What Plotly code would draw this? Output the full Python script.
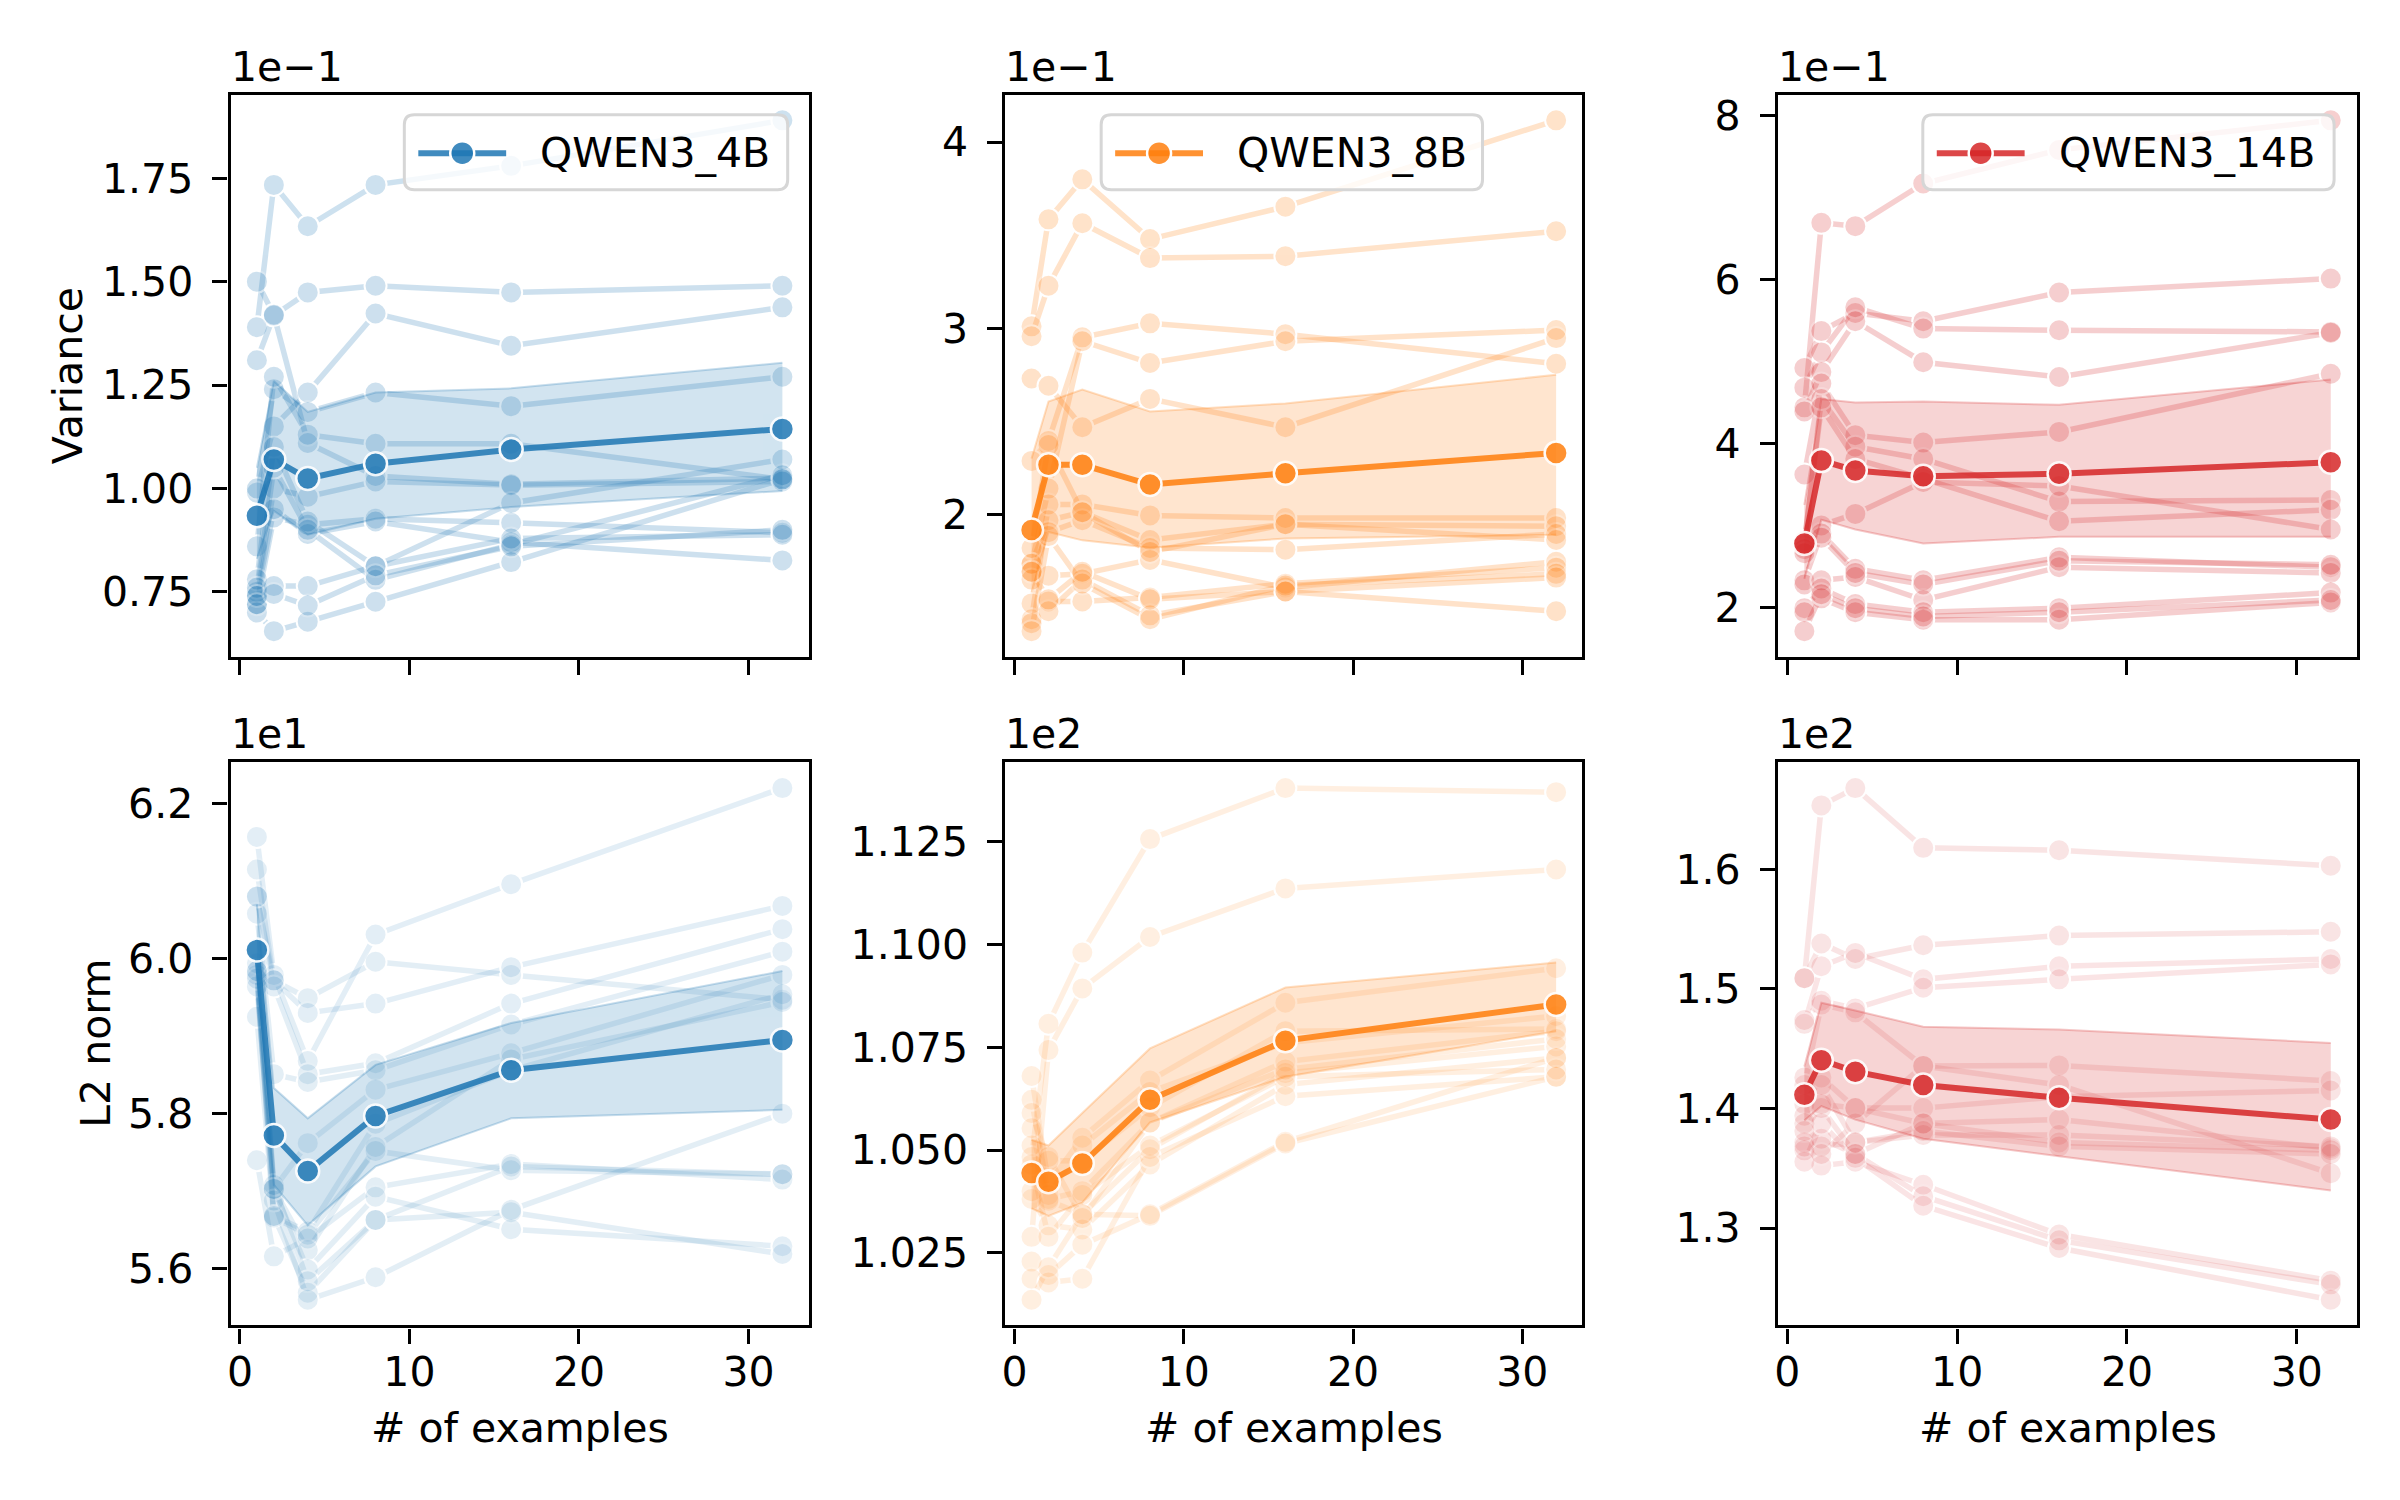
import plotly.graph_objects as go

examples = [1, 2, 4, 8, 16, 32]
models = ["QWEN3_4B", "QWEN3_8B", "QWEN3_14B"]
colors = ["#1f77b4", "#ff7f0e", "#d62728"]

# Variance, shown in units of 1e-1 (offset text on the axis)
var_4b_runs = [
    [1.39, 1.734, 1.634, 1.734, 1.78, 1.89],
    [1.31, 1.418, 1.474, 1.49, 1.474, 1.49],
    [1.50, 1.42, 1.11, 1.03, 1.01, 1.025],
    [0.99, 1.15, 1.232, 1.423, 1.345, 1.438],
    [1.00, 1.24, 1.185, 1.232, 1.199, 1.27],
    [0.86, 1.27, 1.13, 1.108, 1.108, 1.022],
    [0.75, 1.00, 0.98, 1.017, 1.008, 1.017],
    [0.72, 0.93, 0.912, 0.927, 0.917, 0.893],
    [0.74, 0.95, 0.89, 0.92, 0.87, 0.826],
    [0.78, 1.10, 0.92, 0.812, 0.965, 1.07],
    [0.76, 1.05, 0.90, 0.779, 0.864, 1.032],
    [0.70, 0.655, 0.678, 0.726, 0.822, 1.022],
    [0.74, 0.764, 0.764, 0.812, 0.879, 0.888],
    [0.72, 0.745, 0.717, 0.79, 0.86, 0.90],
]
var_4b_mean = [0.934, 1.07, 1.024, 1.06, 1.094, 1.144]
var_4b_lo = [0.83, 0.946, 0.888, 0.927, 0.955, 0.994]
var_4b_hi = [1.05, 1.26, 1.185, 1.232, 1.242, 1.304]

var_8b_runs = [
    [3.01, 3.585, 3.80, 3.479, 3.653, 4.117],
    [2.957, 3.228, 3.564, 3.377, 3.387, 3.521],
    [2.287, 2.394, 2.951, 3.026, 2.968, 2.809],
    [1.734, 2.138, 2.93, 2.813, 2.93, 2.99],
    [2.73, 2.691, 2.468, 2.62, 2.468, 2.947],
    [1.436, 2.053, 2.053, 1.994, 1.98, 1.98],
    [1.734, 1.968, 2.011, 1.862, 1.947, 1.936],
    [1.691, 1.904, 1.968, 1.819, 1.81, 1.894],
    [1.649, 1.67, 1.68, 1.755, 1.606, 1.745],
    [1.521, 1.532, 1.532, 1.553, 1.627, 1.713],
    [1.415, 1.479, 1.649, 1.457, 1.585, 1.479],
    [1.372, 1.883, 1.628, 1.436, 1.617, 1.68],
    [1.819, 2.372, 2.011, 1.798, 1.947, 1.862],
    [1.691, 1.543, 1.691, 1.543, 1.585, 1.66],
]
var_8b_mean = [1.915, 2.266, 2.266, 2.16, 2.22, 2.33]
var_8b_lo = [1.58, 1.905, 1.86, 1.82, 1.87, 1.89]
var_8b_hi = [2.30, 2.606, 2.67, 2.553, 2.596, 2.75]

var_14b_runs = [
    [4.44, 6.69, 6.65, 7.17, 7.58, 7.94],
    [4.92, 5.37, 5.59, 5.49, 5.84, 6.01],
    [4.68, 5.11, 5.66, 5.40, 5.38, 5.36],
    [4.39, 4.87, 5.49, 4.99, 4.81, 5.35],
    [3.62, 4.73, 4.10, 4.01, 4.14, 4.85],
    [2.76, 4.54, 3.96, 3.81, 3.29, 3.31],
    [2.81, 4.44, 3.81, 3.57, 3.05, 3.19],
    [2.71, 3.00, 3.14, 3.53, 3.48, 2.95],
    [2.33, 2.90, 2.47, 2.33, 2.61, 2.49],
    [2.28, 2.33, 2.37, 2.09, 2.49, 2.42],
    [1.99, 2.23, 2.04, 1.94, 1.99, 2.18],
    [1.94, 2.11, 1.94, 1.85, 1.85, 2.06],
    [1.71, 2.16, 1.99, 1.89, 1.94, 2.09],
    [2.66, 2.85, 2.42, 2.28, 2.57, 2.52],
]
var_14b_mean = [2.78, 3.79, 3.67, 3.60, 3.63, 3.77]
var_14b_lo = [2.35, 3.07, 2.95, 2.78, 2.86, 2.86]
var_14b_hi = [3.25, 4.54, 4.50, 4.51, 4.47, 4.78]

# L2 norm, shown in units of 1e1 (4B) and 1e2 (8B, 14B)
l2_4b_runs = [
    [6.157, 5.979, 5.868, 6.031, 6.096, 6.22],
    [6.115, 5.972, 5.949, 5.996, 5.979, 5.947],
    [6.08, 5.972, 5.930, 5.942, 5.989, 6.068],
    [6.08, 5.964, 5.851, 5.865, 5.942, 6.038],
    [6.058, 5.851, 5.841, 5.856, 5.915, 6.009],
    [5.984, 5.703, 5.762, 5.831, 5.878, 5.979],
    [5.979, 5.668, 5.648, 5.787, 5.856, 5.954],
    [5.964, 5.703, 5.624, 5.757, 5.870, 5.944],
    [5.925, 5.666, 5.644, 5.752, 5.727, 5.722],
    [5.740, 5.616, 5.639, 5.705, 5.735, 5.715],
    [5.994, 5.703, 5.599, 5.693, 5.651, 5.629],
    [5.984, 5.668, 5.569, 5.663, 5.673, 5.619],
    [5.974, 5.688, 5.560, 5.589, 5.676, 5.800],
    [6.013, 5.708, 5.584, 5.663, 5.732, 5.722],
]
l2_4b_mean = [6.011, 5.772, 5.726, 5.797, 5.856, 5.895]
l2_4b_lo = [5.95, 5.708, 5.656, 5.732, 5.794, 5.805]
l2_4b_hi = [6.07, 5.833, 5.794, 5.863, 5.917, 5.984]

l2_8b_runs = [
    [1.0483, 1.0807, 1.098, 1.1256, 1.138, 1.137],
    [1.0289, 1.0743, 1.0893, 1.1018, 1.1136, 1.1182],
    [1.068, 1.0419, 1.053, 1.0669, 1.0858, 1.0942],
    [1.0622, 1.0391, 1.0511, 1.0641, 1.0761, 1.0826],
    [1.059, 1.0474, 1.0474, 1.0604, 1.0789, 1.0794],
    [1.0553, 1.0381, 1.04, 1.0567, 1.0715, 1.0789],
    [1.0511, 1.0377, 1.0344, 1.0502, 1.0687, 1.0752],
    [1.0381, 1.0317, 1.0307, 1.0465, 1.0659, 1.0724],
    [1.0229, 1.0196, 1.027, 1.0344, 1.052, 1.0724],
    [1.0187, 1.0178, 1.0187, 1.0483, 1.0631, 1.0678],
    [1.0136, 1.0215, 1.0344, 1.0340, 1.0516, 1.0678],
    [1.0465, 1.0289, 1.0391, 1.0511, 1.0678, 1.0696],
    [1.04, 1.0483, 1.0335, 1.0567, 1.0696, 1.077],
]
l2_8b_mean = [1.0444, 1.0423, 1.0467, 1.0622, 1.0766, 1.0854]
l2_8b_lo = [1.0358, 1.034, 1.0372, 1.0567, 1.0678, 1.0789]
l2_8b_hi = [1.0525, 1.0511, 1.059, 1.0747, 1.0895, 1.0956]

l2_14b_runs = [
    [1.509, 1.6535, 1.668, 1.618, 1.616, 1.603],
    [1.509, 1.538, 1.525, 1.5365, 1.5446, 1.5478],
    [1.4708, 1.519, 1.5301, 1.508, 1.5189, 1.525],
    [1.474, 1.4901, 1.4837, 1.501, 1.508, 1.5205],
    [1.4196, 1.4869, 1.4804, 1.4356, 1.436, 1.423],
    [1.4035, 1.426, 1.4003, 1.4003, 1.4099, 1.415],
    [1.3939, 1.4003, 1.3619, 1.3875, 1.3907, 1.3667],
    [1.3875, 1.3683, 1.3715, 1.3779, 1.3779, 1.3683],
    [1.3715, 1.3522, 1.3554, 1.3362, 1.2946, 1.256],
    [1.365, 1.3747, 1.3619, 1.3266, 1.2897, 1.2529],
    [1.3554, 1.3875, 1.3587, 1.3186, 1.2833, 1.24],
    [1.3683, 1.3619, 1.3875, 1.4356, 1.4196, 1.3458],
    [1.3811, 1.4035, 1.4003, 1.3875, 1.3715, 1.3651],
    [1.426, 1.4196, 1.3715, 1.3811, 1.3683, 1.3619],
]
l2_14b_mean = [1.4115, 1.4404, 1.4308, 1.4196, 1.409, 1.3907]
l2_14b_lo = [1.39, 1.402, 1.3907, 1.3747, 1.36, 1.3314]
l2_14b_hi = [1.435, 1.4885, 1.482, 1.4683, 1.466, 1.4548]

offset_texts = ["1e\u22121", "1e\u22121", "1e\u22121", "1e1", "1e2", "1e2"]
ytick_vals = [
    [0.75, 1.00, 1.25, 1.50, 1.75],
    [2, 3, 4],
    [2, 4, 6, 8],
    [5.6, 5.8, 6.0, 6.2],
    [1.025, 1.050, 1.075, 1.100, 1.125],
    [1.3, 1.4, 1.5, 1.6],
]
ytick_text = [
    ["0.75", "1.00", "1.25", "1.50", "1.75"],
    ["2", "3", "4"],
    ["2", "4", "6", "8"],
    ["5.6", "5.8", "6.0", "6.2"],
    ["1.025", "1.050", "1.075", "1.100", "1.125"],
    ["1.3", "1.4", "1.5", "1.6"],
]
xtick_vals = [0, 10, 20, 30]

panels = [
    (var_4b_runs, var_4b_mean, var_4b_lo, var_4b_hi),
    (var_8b_runs, var_8b_mean, var_8b_lo, var_8b_hi),
    (var_14b_runs, var_14b_mean, var_14b_lo, var_14b_hi),
    (l2_4b_runs, l2_4b_mean, l2_4b_lo, l2_4b_hi),
    (l2_8b_runs, l2_8b_mean, l2_8b_lo, l2_8b_hi),
    (l2_14b_runs, l2_14b_mean, l2_14b_lo, l2_14b_hi),
]

W, H = 2400, 1500


def rgba(hex_color, a):
    h = hex_color.lstrip("#")
    r, g, b = int(h[0:2], 16), int(h[2:4], 16), int(h[4:6], 16)
    return "rgba(%d,%d,%d,%s)" % (r, g, b, a)


def px(x):
    return x / W


def py(y):
    return 1 - y / H


col_dom = [[px(227), px(806)], [px(1003), px(1581)], [px(1777), px(2357)]]
row_dom = [[py(655), py(92)], [py(1325), py(761)]]
run_alpha = [0.22, 0.12]

font = dict(family="DejaVu Sans", size=41, color="black")
fig = go.Figure()
annotations = []
shapes = []

for i, (runs, mean, lo, hi) in enumerate(panels):
    row, col = i // 3, i % 3
    c = colors[col]
    xa = "x" if i == 0 else "x%d" % (i + 1)
    ya = "y" if i == 0 else "y%d" % (i + 1)

    for run in runs:
        fig.add_trace(go.Scatter(
            x=examples, y=run, xaxis=xa, yaxis=ya, mode="lines+markers",
            line=dict(color=c, width=5.5), opacity=run_alpha[row],
            marker=dict(size=22, color=c, line=dict(color="white", width=2)),
            showlegend=False, hoverinfo="skip"))

    fig.add_trace(go.Scatter(
        x=examples, y=lo, xaxis=xa, yaxis=ya, mode="lines",
        line=dict(color=rgba(c, 0.25), width=2), showlegend=False,
        hoverinfo="skip"))
    fig.add_trace(go.Scatter(
        x=examples, y=hi, xaxis=xa, yaxis=ya, mode="lines",
        line=dict(color=rgba(c, 0.25), width=2), fill="tonexty",
        fillcolor=rgba(c, 0.2), showlegend=False, hoverinfo="skip"))

    fig.add_trace(go.Scatter(
        x=examples, y=mean, xaxis=xa, yaxis=ya, mode="lines+markers",
        name=models[col], showlegend=False,
        line=dict(color=c, width=6), opacity=0.85,
        marker=dict(size=23, color=c, line=dict(color="white", width=2.5))))

    axis_common = dict(
        showline=True, linecolor="black", linewidth=3.3, mirror=True,
        ticks="outside", ticklen=15, tickwidth=3.3, tickcolor="black",
        showgrid=False, zeroline=False, tickfont=font)
    xkey = "xaxis" if i == 0 else "xaxis%d" % (i + 1)
    ykey = "yaxis" if i == 0 else "yaxis%d" % (i + 1)
    all_y = [v for r in runs for v in r] + lo + hi
    span = max(all_y) - min(all_y)
    fig.update_layout({
        xkey: dict(axis_common, domain=col_dom[col], anchor=ya,
                   range=[-0.55, 33.55], tickvals=xtick_vals,
                   showticklabels=(row == 1), ticklabelstandoff=-7),
        ykey: dict(axis_common, domain=row_dom[row], anchor=xa,
                   range=[min(all_y) - 0.05 * span, max(all_y) + 0.05 * span],
                   tickvals=ytick_vals[i], ticktext=ytick_text[i],
                   ticklabelstandoff=11),
    })

    annotations.append(dict(
        text=offset_texts[i], x=col_dom[col][0], y=row_dom[row][1],
        xref="paper", yref="paper", xanchor="left", yanchor="bottom",
        xshift=-2, yshift=2, showarrow=False, font=font))
    if row == 1:
        annotations.append(dict(
            text="# of examples", x=sum(col_dom[col]) / 2, y=py(1428),
            xref="paper", yref="paper", xanchor="center", yanchor="middle",
            showarrow=False, font=font))

annotations.append(dict(text="Variance", x=px(64), y=py(373), xref="paper",
                        yref="paper", xanchor="center", yanchor="middle",
                        textangle=-90, showarrow=False, font=font))
annotations.append(dict(text="L2 norm", x=px(92), y=py(1042), xref="paper",
                        yref="paper", xanchor="center", yanchor="middle",
                        textangle=-90, showarrow=False, font=font))

# matplotlib-style legend box in each top panel
legend_left = [401, 1099, 1922]
legend_right = [785, 1481, 2334]
legend_top, legend_bottom = 112, 187


def rounded_box(x0, y0, x1, y1, r):
    pts = [
        "M%f,%f" % (px(x0 + r), py(y0)),
        "L%f,%f" % (px(x1 - r), py(y0)),
        "Q%f,%f %f,%f" % (px(x1), py(y0), px(x1), py(y0 + r)),
        "L%f,%f" % (px(x1), py(y1 - r)),
        "Q%f,%f %f,%f" % (px(x1), py(y1), px(x1 - r), py(y1)),
        "L%f,%f" % (px(x0 + r), py(y1)),
        "Q%f,%f %f,%f" % (px(x0), py(y1), px(x0), py(y1 - r)),
        "L%f,%f" % (px(x0), py(y0 + r)),
        "Q%f,%f %f,%f" % (px(x0), py(y0), px(x0 + r), py(y0)),
        "Z",
    ]
    return " ".join(pts)


for col in range(3):
    c = colors[col]
    x0, x1 = legend_left[col], legend_right[col]
    yc = (legend_top + legend_bottom) / 2 + 1
    shapes.append(dict(
        type="path", xref="paper", yref="paper", layer="above",
        path=rounded_box(x0, legend_top, x1, legend_bottom, 10),
        fillcolor="rgba(255,255,255,0.8)", line=dict(color="#d6d6d6", width=3)))
    shapes.append(dict(
        type="line", xref="paper", yref="paper", layer="above",
        x0=px(x0 + 14), x1=px(x0 + 102), y0=py(yc), y1=py(yc),
        line=dict(color=rgba(c, 0.85), width=6)))
    shapes.append(dict(
        type="circle", xref="paper", yref="paper", layer="above",
        xsizemode="pixel", ysizemode="pixel",
        xanchor=px(x0 + 58), yanchor=py(yc), x0=-12, x1=12, y0=-12, y1=12,
        fillcolor=rgba(c, 0.85), line=dict(color="white", width=2.5)))
    annotations.append(dict(
        text=models[col], x=px(x0 + 134), y=py(yc), xref="paper",
        yref="paper", xanchor="left", yanchor="middle", showarrow=False,
        font=font))

fig.update_layout(
    width=W, height=H, margin=dict(l=0, r=0, t=0, b=0),
    plot_bgcolor="white", paper_bgcolor="white", font=font,
    annotations=annotations, shapes=shapes, showlegend=False,
)

fig.write_html("out.html", config={"displayModeBar": False},
               post_script="document.body.style.margin='0';"
                           "document.body.style.overflow='hidden';")
